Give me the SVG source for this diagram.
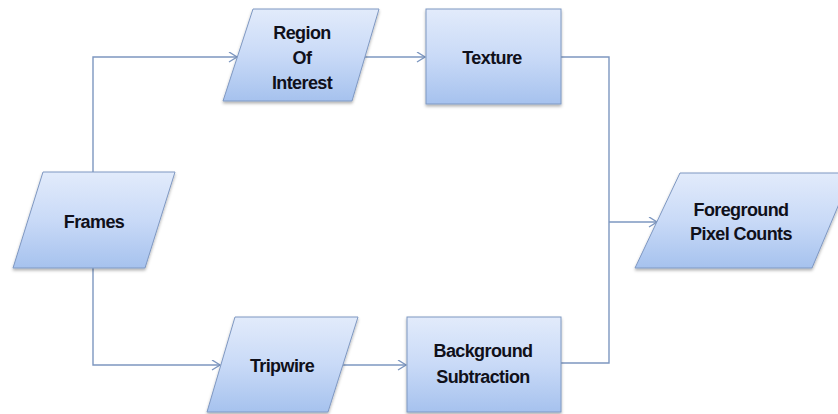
<svg xmlns="http://www.w3.org/2000/svg" width="838" height="414" viewBox="0 0 838 414">
<style>
.shape{fill:url(#g);stroke:#7f98c2;stroke-width:1;filter:url(#sh)}
.lbl{font-family:"Liberation Sans",Arial,sans-serif;font-weight:bold;font-size:18px;letter-spacing:-0.6px;fill:#10101a;text-anchor:middle}
.conn{fill:none;stroke:#7d97c0;stroke-width:1.4}
</style>
<defs>
<linearGradient id="g" x1="0" y1="0" x2="0" y2="1">
<stop offset="0" stop-color="#e2ebfb"/>
<stop offset="0.5" stop-color="#c9daf7"/>
<stop offset="1" stop-color="#a6c2ee"/>
</linearGradient>
<filter id="sh" x="-10%" y="-10%" width="120%" height="125%">
<feDropShadow dx="0" dy="2" stdDeviation="1.5" flood-color="#000" flood-opacity="0.3"/>
</filter>
<marker id="arr" markerWidth="12" markerHeight="12" refX="9" refY="5" orient="auto" markerUnits="userSpaceOnUse">
<path d="M1,0 L9,5 L1,10" fill="none" stroke="#7d97c0" stroke-width="1.4"/>
</marker>
</defs>
<g id="connectors">
<path class="conn" d="M93,172 V57 H237" marker-end="url(#arr)"/>
<path class="conn" d="M93,268 V365 H220" marker-end="url(#arr)"/>
<path class="conn" d="M363,57 H425" marker-end="url(#arr)"/>
<path class="conn" d="M343,365 H406" marker-end="url(#arr)"/>
<path class="conn" d="M561,57 H609 V363 H561"/>
<path class="conn" d="M609,222 H657" marker-end="url(#arr)"/>
</g>
<g id="frames">
<polygon class="shape" points="43,172 175,172 145,268 13,268"/>
<text class="lbl" x="94" y="228">Frames</text>
</g>
<g id="roi">
<polygon class="shape" points="253,9 379,9 352,101 223,101"/>
<text class="lbl" x="302" y="39">Region</text>
<text class="lbl" x="302" y="64">Of</text>
<text class="lbl" x="302" y="89">Interest</text>
</g>
<g id="texture">
<rect class="shape" x="426" y="9" width="135" height="95"/>
<text class="lbl" x="492" y="64">Texture</text>
</g>
<g id="tripwire">
<polygon class="shape" points="235,317 358,317 328,412 207,412"/>
<text class="lbl" x="282" y="372">Tripwire</text>
</g>
<g id="background">
<rect class="shape" x="407" y="317" width="154" height="95"/>
<text class="lbl" x="483" y="357">Background</text>
<text class="lbl" x="483" y="383">Subtraction</text>
</g>
<g id="foreground">
<polygon class="shape" points="680,173 852,173 812,268 635,268"/>
<text class="lbl" x="741" y="216">Foreground</text>
<text class="lbl" x="741" y="240">Pixel Counts</text>
</g>
</svg>
